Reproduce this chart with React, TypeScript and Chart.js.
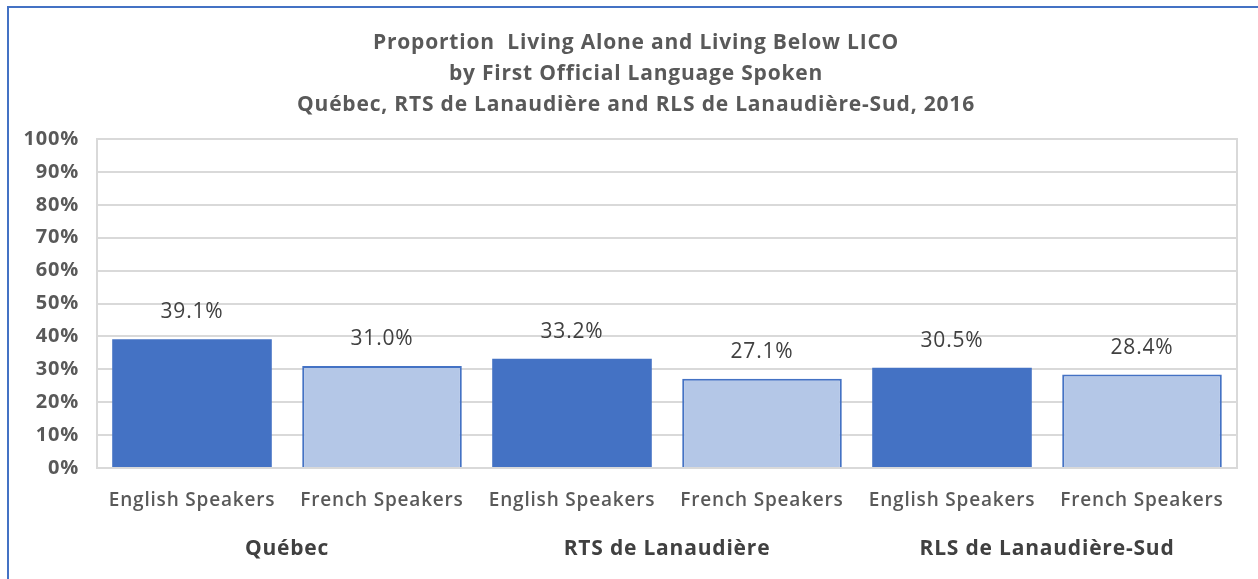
import React, { useEffect, useRef } from 'react';
import { Chart, registerables } from 'chart.js';

Chart.register(...registerables);

const titleLines = [
  'Proportion  Living Alone and Living Below LICO',
  'by First Official Language Spoken',
  'Québec, RTS de Lanaudière and RLS de Lanaudière-Sud, 2016',
];
const categories = [
  'English Speakers',
  'French Speakers',
  'English Speakers',
  'French Speakers',
  'English Speakers',
  'French Speakers',
];
const groups = ['Québec', 'RTS de Lanaudière', 'RLS de Lanaudière-Sud'];
const values = [39.1, 31.0, 33.2, 27.1, 30.5, 28.4];
const yMin = 0;
const yMax = 100;
const yStep = 10;

const DARK = '#4472C4';
const LIGHT = '#B4C7E7';
const FONT = "'Open Sans', sans-serif";

const spacingPlugin = {
  id: 'spacing',
  beforeDraw(chart: any) {
    chart.ctx.letterSpacing = '0.8px';
  },
};

const titlePlugin = {
  id: 'multiTitle',
  afterDraw(chart: any) {
    const ctx = chart.ctx;
    ctx.save();
    ctx.letterSpacing = '0.8px';
    ctx.fillStyle = '#595959';
    ctx.font = `bold 21px ${FONT}`;
    ctx.textAlign = 'center';
    ctx.textBaseline = 'middle';
    const cx = 636;
    titleLines.forEach((t, i) => ctx.fillText(t, cx, 43 + i * 31));
    ctx.restore();
  },
};

const frameAndLabels = {
  id: 'frameAndLabels',
  beforeDatasetsDraw(chart: any) {
    const { ctx, chartArea } = chart;
    ctx.save();
    ctx.strokeStyle = '#D9D9D9';
    ctx.lineWidth = 2;
    ctx.strokeRect(chartArea.left, chartArea.top, chartArea.right - chartArea.left, chartArea.bottom - chartArea.top);
    ctx.restore();
  },
  afterDatasetsDraw(chart: any) {
    const { ctx } = chart;
    const meta = chart.getDatasetMeta(0);
    ctx.save();
    ctx.letterSpacing = '0.8px';
    ctx.fillStyle = '#404040';
    ctx.font = `21px ${FONT}`;
    ctx.textAlign = 'center';
    ctx.textBaseline = 'middle';
    meta.data.forEach((bar: any, i: number) => {
      ctx.fillText(values[i].toFixed(1) + '%', bar.x, bar.y - 27);
    });
    ctx.restore();
  },
};

export default function App() {
  const ref = useRef<HTMLCanvasElement>(null);
  useEffect(() => {
    document.body.style.overflow = 'hidden';
    const chart = new Chart(ref.current as HTMLCanvasElement, {
      type: 'bar',
      data: {
        labels: categories,
        datasets: [
          {
            data: values,
            backgroundColor: values.map((_, i) => (i % 2 === 0 ? DARK : LIGHT)),
            borderColor: DARK,
            borderWidth: values.map((_, i) => (i % 2 === 0 ? 0 : 2)),
            categoryPercentage: 1,
            barPercentage: 0.84,
          },
        ],
      },
      options: {
        animation: false,
        responsive: false,
        layout: { padding: { left: 0, right: 21, top: 139, bottom: 0 } },
        plugins: {
          legend: { display: false },
          tooltip: { enabled: false },
          title: { display: false },
        },
        scales: {
          y: {
            min: yMin,
            max: yMax,
            ticks: {
              stepSize: yStep,
              callback: (v: any) => v + '%',
              color: '#595959',
              font: { family: FONT, size: 20, weight: 'bold' },
              padding: 18,
            },
            grid: { color: '#D9D9D9', lineWidth: 2, drawTicks: false },
            border: { display: true, color: '#D9D9D9', width: 2 },
            afterFit: (s: any) => {
              s.width = 97;
            },
          },
          x: {
            ticks: {
              color: '#595959',
              font: { family: FONT, size: 19, weight: '600' },
              padding: 21,
              maxRotation: 0,
              autoSkip: false,
            },
            grid: { display: false, drawTicks: false },
            border: { display: true, color: '#D9D9D9', width: 2 },
            afterFit: (s: any) => {
              s.height = 55;
            },
          },
          x2: {
            type: 'category',
            position: 'bottom',
            labels: groups,
            ticks: {
              color: '#404040',
              font: { family: FONT, size: 21, weight: 'bold' },
              padding: 13,
              maxRotation: 0,
              autoSkip: false,
            },
            grid: { display: false, drawTicks: false },
            border: { display: false },
            afterFit: (s: any) => {
              s.height = 56;
            },
          },
        },
      },
      plugins: [spacingPlugin, titlePlugin, frameAndLabels],
    } as any);
    return () => chart.destroy();
  }, []);

  return (
    <>
      <div
        style={{
          position: 'fixed',
          left: 7,
          top: 6,
          right: -20,
          bottom: -20,
          borderLeft: `2px solid ${DARK}`,
          borderTop: `2px solid ${DARK}`,
          background: '#fff',
        }}
      />
      <canvas
        ref={ref}
        width={1258}
        height={579}
        style={{ position: 'fixed', left: 0, top: 0, width: 1258, height: 579 }}
      />
    </>
  );
}
